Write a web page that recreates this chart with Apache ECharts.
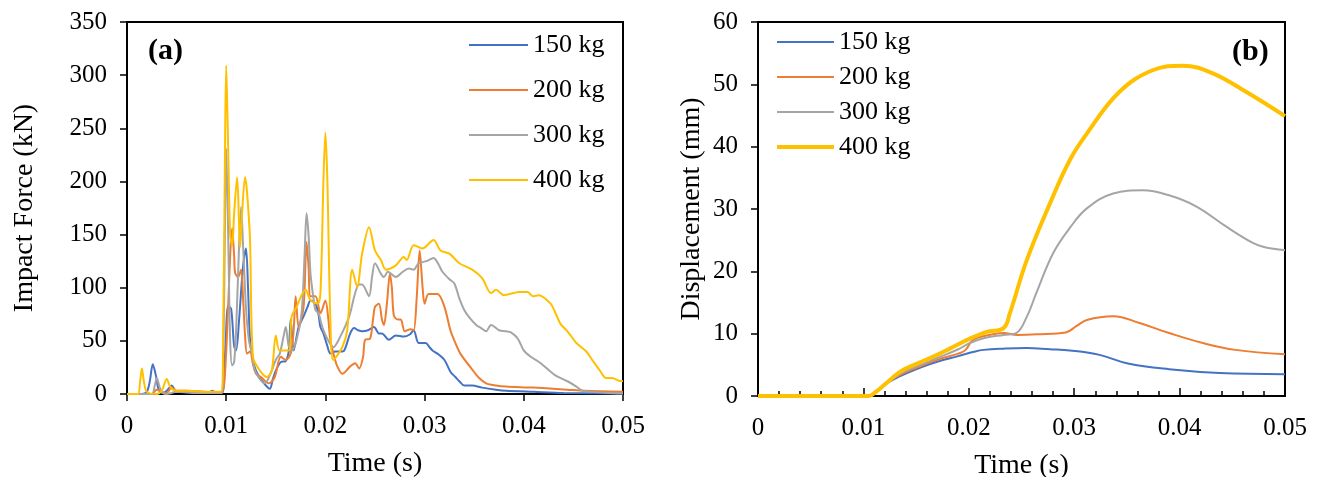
<!DOCTYPE html>
<html>
<head>
<meta charset="utf-8">
<script src="https://cdn.jsdelivr.net/npm/echarts@6/dist/echarts.min.js"></script>
<style>html,body{margin:0;padding:0;background:#fff}#c{width:1320px;height:477px}</style>
</head>
<body>
<div id="c"></div>
<script>
// ---------- data ----------
const seriesNames = ['150 kg', '200 kg', '300 kg', '400 kg'];
const colors = ['#4472C4', '#ED7D31', '#A5A5A5', '#FFC000'];
const xTicks = [0, 0.01, 0.02, 0.03, 0.04, 0.05];

// (a) Impact force (kN) vs time (s)
const force150 = [[0,0],[0.0015,0],[0.002,2],[0.0023,12],[0.0026,28],[0.0029,18],[0.0032,4],[0.0036,1],[0.004,3],[0.0045,8],[0.0049,3],[0.0055,2],[0.007,2],[0.0082,1],[0.0086,3],[0.009,1],[0.0096,1],[0.0099,40],[0.0102,83],[0.0105,80],[0.0108,45],[0.011,41],[0.0113,70],[0.0117,120],[0.012,137],[0.0122,100],[0.0124,51],[0.0127,32],[0.013,22],[0.0135,14],[0.014,8],[0.0144,5],[0.0147,14],[0.015,22],[0.0155,30],[0.016,31],[0.0163,40],[0.0165,70],[0.0168,41],[0.0173,63],[0.0178,73],[0.0182,82],[0.0185,88],[0.019,85],[0.0193,75],[0.0195,63],[0.0198,57],[0.0202,45],[0.0205,38],[0.021,40],[0.0215,40],[0.0219,41],[0.0225,57],[0.0229,62],[0.0233,60],[0.0237,59],[0.0243,60],[0.0249,63],[0.0254,57],[0.0257,57],[0.0264,51],[0.0271,55],[0.0279,54],[0.0285,56],[0.0289,60],[0.0294,48],[0.0301,48],[0.0305,44],[0.0308,41],[0.0313,38],[0.032,32],[0.0326,21],[0.0331,16],[0.0335,12],[0.034,8],[0.0348,8],[0.0358,6],[0.0372,4],[0.0382,3],[0.041,2],[0.044,1],[0.05,0.5]];
const force200 = [[0,0],[0.0025,0],[0.003,4],[0.0035,2],[0.004,1],[0.0045,6],[0.005,3],[0.006,3],[0.008,2],[0.0095,1],[0.0098,10],[0.0101,60],[0.0104,130],[0.0106,156],[0.0108,130],[0.0109,114],[0.0112,110],[0.0115,117],[0.0117,90],[0.0119,55],[0.0121,38],[0.0124,40],[0.0127,28],[0.013,19],[0.0135,16],[0.0143,10],[0.0149,16],[0.0155,35],[0.016,32],[0.0165,38],[0.0168,60],[0.017,92],[0.0173,63],[0.0178,82],[0.0181,143],[0.0183,120],[0.0185,92],[0.019,92],[0.0195,76],[0.02,88],[0.0203,70],[0.0205,51],[0.0209,35],[0.0212,26],[0.0217,19],[0.0225,26],[0.023,29],[0.0234,24],[0.0238,35],[0.024,51],[0.0245,52],[0.0248,70],[0.025,82],[0.0254,85],[0.0257,70],[0.0259,65],[0.0262,85],[0.0265,113],[0.0267,100],[0.0269,74],[0.0273,70],[0.0276,70],[0.028,59],[0.0286,61],[0.0289,60],[0.0292,90],[0.0295,135],[0.0298,100],[0.03,85],[0.0304,94],[0.0313,94],[0.032,82],[0.0326,60],[0.0331,48],[0.0336,38],[0.0348,23],[0.0355,15],[0.0362,10],[0.0372,8],[0.0382,7],[0.041,6],[0.0444,4],[0.0461,3],[0.05,2]];
const force300 = [[0,0],[0.0025,0],[0.0028,8],[0.003,15],[0.0033,6],[0.0036,1],[0.004,0],[0.005,2],[0.007,1],[0.0095,1],[0.0097,30],[0.0099,180],[0.01,231],[0.0102,150],[0.0104,50],[0.0106,27],[0.0108,30],[0.011,60],[0.0113,140],[0.0115,176],[0.0117,140],[0.012,80],[0.0123,50],[0.0126,38],[0.0129,22],[0.0134,14],[0.0139,10],[0.0145,20],[0.015,32],[0.0154,38],[0.0158,55],[0.016,63],[0.0163,45],[0.0166,41],[0.0171,51],[0.0176,76],[0.0179,130],[0.0181,170],[0.0183,150],[0.0185,113],[0.0188,90],[0.019,79],[0.0193,76],[0.0196,66],[0.0198,60],[0.0203,50],[0.0208,44],[0.0215,54],[0.0224,73],[0.023,95],[0.0234,103],[0.0237,103],[0.0244,92],[0.0247,110],[0.025,123],[0.0256,113],[0.0259,110],[0.0263,115],[0.0271,110],[0.0278,115],[0.0284,118],[0.0289,117],[0.0294,123],[0.0302,125],[0.0309,128],[0.0314,122],[0.0318,115],[0.0325,108],[0.033,104],[0.0335,90],[0.034,79],[0.0345,72],[0.0352,65],[0.0357,62],[0.0362,59],[0.0367,65],[0.0375,60],[0.0382,59],[0.0387,58],[0.0394,52],[0.04,41],[0.0407,35],[0.0417,29],[0.0431,18],[0.0444,12],[0.0453,7],[0.0459,3],[0.0468,2],[0.0485,1],[0.05,0.5]];
const force400 = [[0,0],[0.0011,0],[0.0013,10],[0.0015,24],[0.0017,12],[0.002,2],[0.003,0],[0.0035,3],[0.004,14],[0.0044,6],[0.005,3],[0.006,3],[0.008,2],[0.0095,2],[0.0097,60],[0.0099,250],[0.01,309],[0.0102,230],[0.0104,150],[0.0106,140],[0.0108,170],[0.0111,204],[0.0113,160],[0.0114,138],[0.0116,170],[0.0119,204],[0.0121,190],[0.0124,145],[0.0127,35],[0.0134,22],[0.0141,16],[0.0146,22],[0.015,55],[0.0154,41],[0.0163,41],[0.0166,73],[0.0171,82],[0.0176,93],[0.018,98],[0.0185,88],[0.0192,85],[0.0195,95],[0.0198,200],[0.02,246],[0.0202,200],[0.0205,70],[0.0208,32],[0.0217,44],[0.0222,60],[0.0227,117],[0.0232,101],[0.0237,132],[0.0244,157],[0.025,135],[0.0256,126],[0.0261,117],[0.0271,121],[0.0279,129],[0.0282,126],[0.0289,140],[0.0298,137],[0.0309,145],[0.0316,135],[0.0325,132],[0.0335,123],[0.0348,117],[0.0358,109],[0.0367,95],[0.0372,98],[0.038,93],[0.039,95],[0.0395,96],[0.0404,96],[0.0409,92],[0.0415,93],[0.0427,85],[0.0432,76],[0.0437,66],[0.0444,59],[0.0453,48],[0.0463,40],[0.0469,32],[0.0476,23],[0.0483,15],[0.0489,15],[0.0496,12.5],[0.05,12]];

// (b) Displacement (mm) vs time (s)
const disp150 = [[0,0],[0.0105,0],[0.0112,0.6],[0.012,1.8],[0.0135,3.2],[0.015,4.3],[0.017,5.5],[0.019,6.4],[0.0205,7.1],[0.0214,7.4],[0.0233,7.6],[0.0255,7.7],[0.0277,7.5],[0.0296,7.3],[0.0324,6.6],[0.0351,5.2],[0.039,4.3],[0.0438,3.7],[0.05,3.5]];
const disp200 = [[0,0],[0.0105,0],[0.0112,0.6],[0.012,1.9],[0.0135,3.4],[0.015,4.5],[0.017,5.8],[0.019,6.8],[0.0197,7.4],[0.0204,9.0],[0.0217,9.7],[0.0233,10.1],[0.0246,9.8],[0.0265,9.9],[0.0292,10.2],[0.0302,11.2],[0.0312,12.2],[0.0337,12.8],[0.0362,11.7],[0.039,10.1],[0.0422,8.5],[0.0453,7.4],[0.05,6.7]];
const disp300 = [[0,0],[0.0105,0],[0.0112,0.6],[0.012,1.9],[0.0135,3.6],[0.015,4.7],[0.017,6.1],[0.019,7.5],[0.0201,8.5],[0.0215,9.3],[0.0233,9.8],[0.0245,10.1],[0.0255,12.7],[0.0264,16.5],[0.028,22.9],[0.0296,27.0],[0.0312,30.1],[0.0337,32.5],[0.0365,33.0],[0.039,32.2],[0.0416,30.4],[0.0444,27.2],[0.0469,24.6],[0.048,23.9],[0.05,23.4]];
const disp400 = [[0,0],[0.0105,0],[0.0112,0.7],[0.012,1.8],[0.0135,3.9],[0.0151,5.2],[0.017,6.6],[0.0182,7.6],[0.0201,9.2],[0.0217,10.3],[0.0233,10.9],[0.0239,13.3],[0.0255,21.8],[0.0277,30.9],[0.0296,37.9],[0.0312,42.1],[0.0343,48.8],[0.0375,52.3],[0.0403,53.0],[0.0431,51.8],[0.0463,48.8],[0.05,44.9]];

// ---------- chart ----------
const FONT = 'Liberation Serif';
const forceData = [force150, force200, force300, force400];
const dispData = [disp150, disp200, disp300, disp400];
const dispWidths = [2, 2, 2, 4];

function xAxisCfg(gridIndex, inside, minor) {
  return {
    type: 'value', gridIndex: gridIndex, min: xTicks[0], max: xTicks[xTicks.length - 1], interval: 0.01,
    name: 'Time (s)', nameLocation: 'middle', nameGap: 56,
    nameTextStyle: { fontFamily: FONT, fontSize: 28, color: '#000' },
    axisLine: { lineStyle: { color: '#000', width: 2 } },
    axisTick: { show: true, inside: inside, length: inside ? 8 : 7, lineStyle: { color: '#000', width: 1.5 } },
    minorTick: { show: minor, splitNumber: 5, length: 5, lineStyle: { color: '#000', width: 1.5 } },
    splitLine: { show: false },
    axisLabel: { fontFamily: FONT, fontSize: 25, color: '#000', margin: 20,
      formatter: v => String(+v.toFixed(2)) }
  };
}
function yAxisCfg(gridIndex, max, interval, name, gap) {
  return {
    type: 'value', gridIndex: gridIndex, min: 0, max: max, interval: interval,
    name: name, nameLocation: 'middle', nameGap: gap,
    nameTextStyle: { fontFamily: FONT, fontSize: 28, color: '#000' },
    axisLine: { show: true, lineStyle: { color: '#000', width: 2 } },
    axisTick: { show: true, length: 7, lineStyle: { color: '#000', width: 1.5 } },
    splitLine: { show: false },
    axisLabel: { fontFamily: FONT, fontSize: 25, color: '#000', margin: 20 }
  };
}

const series = [];
seriesNames.forEach((n, i) => {
  series.push({ name: n, type: 'line', xAxisIndex: 0, yAxisIndex: 0, data: forceData[i],
    symbol: 'none', showSymbol: false, smooth: 0.3, color: colors[i],
    lineStyle: { color: colors[i], width: 2 }, z: 2 + i });
});
seriesNames.forEach((n, i) => {
  series.push({ name: n, type: 'line', xAxisIndex: 1, yAxisIndex: 1, data: dispData[i],
    symbol: 'none', showSymbol: false, smooth: 0.4, color: colors[i],
    lineStyle: { color: colors[i], width: dispWidths[i] }, z: 2 + i });
});

const legendText = { fontFamily: FONT, fontSize: 26, lineHeight: 26, color: '#000' };
const option = {
  animation: false,
  backgroundColor: '#fff',
  grid: [
    { left: 127, right: 697, top: 22, bottom: 83, show: true, borderColor: '#000', borderWidth: 2,
      backgroundColor: 'transparent', containLabel: false, outerBoundsMode: 'none' },
    { left: 758, right: 35, top: 22, bottom: 81, show: true, borderColor: '#000', borderWidth: 2,
      backgroundColor: 'transparent', containLabel: false, outerBoundsMode: 'none' }
  ],
  xAxis: [xAxisCfg(0, false, false), xAxisCfg(1, true, true)],
  yAxis: [yAxisCfg(0, 350, 50, 'Impact Force (kN)', 88), yAxisCfg(1, 60, 10, 'Displacement (mm)', 52)],
  legend: [
    { left: 468, top: 32, padding: 0, orient: 'vertical', itemWidth: 59, itemHeight: 14, itemGap: 19,
      selectedMode: false, textStyle: legendText, itemStyle: { opacity: 0 },
      data: seriesNames.map(n => ({ name: n, lineStyle: { width: 2 }, itemStyle: { opacity: 0 } })) },
    { left: 775, top: 29, padding: 0, orient: 'vertical', itemWidth: 57, itemHeight: 14, itemGap: 9,
      selectedMode: false, textStyle: legendText, itemStyle: { opacity: 0 },
      data: seriesNames.map((n, i) => ({ name: n, lineStyle: { width: dispWidths[i] }, itemStyle: { opacity: 0 } })) }
  ],
  graphic: [
    { type: 'text', left: 148, top: 36, style: { text: '(a)', font: 'bold 30px "Liberation Serif"', fill: '#000' } },
    { type: 'text', left: 1232, top: 37, style: { text: '(b)', font: 'bold 30px "Liberation Serif"', fill: '#000' } }
  ],
  series: series
};
const chart = echarts.init(document.getElementById('c'), null, { renderer: 'canvas' });
chart.setOption(option);
</script>
</body>
</html>
